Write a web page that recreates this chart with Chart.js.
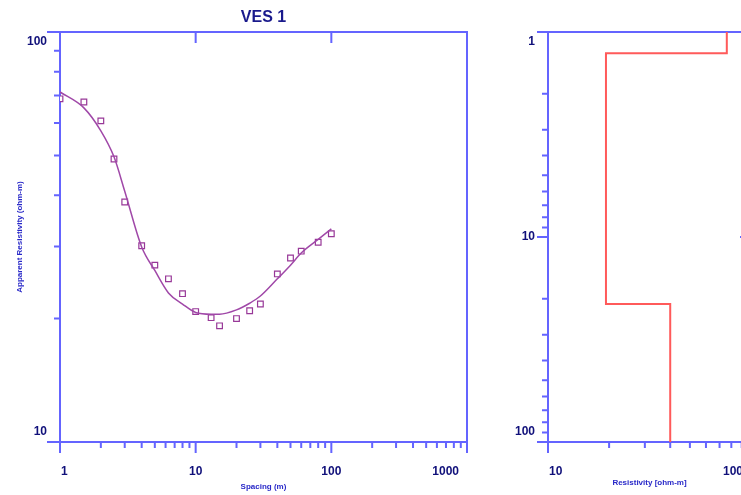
<!DOCTYPE html>
<html>
<head>
<meta charset="utf-8">
<script src="https://cdn.jsdelivr.net/npm/chart.js@4.4.1/dist/chart.umd.min.js"></script>
<style>
html, body { margin: 0; padding: 0; background: #fff; overflow: hidden; width: 741px; height: 495px; }
#ves { position: absolute; left: 0; top: 0; }
#model { position: absolute; left: 490px; top: 0; }
</style>
</head>
<body>
<canvas id="ves" width="490" height="495"></canvas>
<canvas id="model" width="300" height="495"></canvas>
<script>
// field sounding: AB/2 spacing (m) and apparent resistivity (ohm-m)
var spacing = [1, 1.5, 2, 2.5, 3, 4, 5, 6.3, 8, 10, 13, 15, 20, 25, 30, 40, 50, 60, 80, 100];
var apparentRes = [68.7, 67.5, 60.7, 49.0, 38.5, 30.1, 27.0, 25.0, 23.0, 20.8, 20.1, 19.2, 20.0, 20.9, 21.7, 25.7, 28.1, 29.2, 30.7, 32.2];
// computed response of the layered model at the same spacings
var modelRes = [71.4, 65.3, 57.4, 49.6, 40.9, 29.9, 26.2, 23.1, 21.7, 20.7, 20.5, 20.5, 21.0, 21.8, 22.7, 25.0, 27.0, 28.9, 31.2, 33.1];

// layered model: resistivity of each layer and depth of each interface
var layerRes = [76, 19.3, 40];
var interfaceDepth = [1.27, 21.2];
var depthMin = 1, depthMax = 100;

// axis decades and their labels
var spacingDecades = [1, 10, 100, 1000];
var spacingLabels = ['1', '10', '100', '1000'];
var appResDecades = [10, 100];
var appResLabels = ['10', '100'];
var resDecades = [10, 100];
var resLabels = ['10', '100'];
var depthDecades = [1, 10, 100];
var depthLabels = ['1', '10', '100'];

var axisColor = '#6464ff';
var labelColor = '#10107a';
var titleColor = '#2828c8';
var labelFont = 'bold 12px "Liberation Sans", Arial, sans-serif';
var smallFont = 'bold 8px "Liberation Sans", Arial, sans-serif';

function minorsOf(decades) {
  var out = [];
  for (var i = 0; i < decades.length - 1; i++) {
    for (var k = 2; k <= 9; k++) out.push(decades[i] * k);
  }
  return out;
}

// frame, log ticks and labels in the style of the old IPI2Win plots
var logFrame = {
  id: 'logFrame',
  beforeDatasetsDraw: function (chart, args, o) {
    var ctx = chart.ctx, a = chart.chartArea;
    var xs = chart.scales.x, ys = chart.scales.y;
    ctx.save();
    ctx.strokeStyle = axisColor;
    ctx.lineWidth = 2;
    ctx.strokeRect(a.left, a.top, a.right - a.left, a.bottom - a.top);

    ctx.beginPath();
    minorsOf(o.xDecades).forEach(function (v) {
      var px = xs.getPixelForValue(v);
      ctx.moveTo(px, a.bottom); ctx.lineTo(px, a.bottom + 6);
    });
    o.xDecades.forEach(function (v) {
      var px = xs.getPixelForValue(v);
      ctx.moveTo(px, a.bottom); ctx.lineTo(px, a.bottom + 11);
      ctx.moveTo(px, a.top); ctx.lineTo(px, a.top + 11);
    });
    minorsOf(o.yDecades).forEach(function (v) {
      var py = ys.getPixelForValue(v);
      ctx.moveTo(a.left - 6, py); ctx.lineTo(a.left, py);
    });
    o.yDecades.forEach(function (v) {
      var py = ys.getPixelForValue(v);
      ctx.moveTo(a.left - o.majorLen, py); ctx.lineTo(a.left, py);
      ctx.moveTo(a.right - 11, py); ctx.lineTo(a.right, py);
    });
    ctx.stroke();

    ctx.fillStyle = labelColor;
    ctx.font = labelFont;
    ctx.textBaseline = 'middle';
    o.xDecades.forEach(function (v, i) {
      var px = xs.getPixelForValue(v);
      if (i === 0) { ctx.textAlign = 'left'; px += 1; }
      else if (i === o.xDecades.length - 1) { ctx.textAlign = 'right'; px -= 8; }
      else ctx.textAlign = 'center';
      ctx.fillText(o.xLabels[i], px, a.bottom + 30);
    });
    ctx.textAlign = 'right';
    o.yDecades.forEach(function (v, i) {
      var py = ys.getPixelForValue(v);
      if (Math.abs(py - a.top) < 1) py += 10;
      else if (Math.abs(py - a.bottom) < 1) py -= 10;
      ctx.fillText(o.yLabels[i], a.left - 13, py);
    });

    if (o.title) {
      ctx.fillStyle = '#1a1a8c';
      ctx.font = 'bold 16px "Liberation Sans", Arial, sans-serif';
      ctx.textAlign = 'center';
      ctx.fillText(o.title, (a.left + a.right) / 2, 18);
    }

    ctx.fillStyle = titleColor;
    ctx.font = smallFont;
    ctx.textAlign = 'center';
    ctx.fillText(o.xTitle, (a.left + a.right) / 2, o.xTitleY);
    ctx.translate(o.yTitleX, (a.top + a.bottom) / 2);
    ctx.rotate(-Math.PI / 2);
    ctx.fillText(o.yTitle, 0, 0);
    ctx.restore();
  }
};

function pairs(xs, ys) {
  return xs.map(function (x, i) { return { x: x, y: ys[i] }; });
}

new Chart(document.getElementById('ves'), {
  type: 'scatter',
  data: {
    datasets: [
      {
        data: pairs(spacing, modelRes),
        showLine: true,
        borderColor: '#a048a8',
        borderWidth: 1.5,
        pointRadius: 0,
        cubicInterpolationMode: 'monotone'
      },
      {
        data: pairs(spacing, apparentRes),
        pointStyle: 'rect',
        pointRadius: 4,
        borderWidth: 1.2,
        borderColor: '#983898',
        backgroundColor: '#ffffff'
      }
    ]
  },
  options: {
    responsive: false,
    animation: false,
    layout: { padding: { left: 60, top: 32, right: 23, bottom: 53 } },
    scales: {
      x: { type: 'logarithmic', min: 1, max: 1000, display: false },
      y: { type: 'logarithmic', min: 10, max: 100, display: false }
    },
    plugins: {
      legend: { display: false },
      tooltip: { enabled: false },
      logFrame: {
        xDecades: spacingDecades, xLabels: spacingLabels,
        yDecades: appResDecades, yLabels: appResLabels,
        majorLen: 13,
        title: 'VES 1',
        xTitle: 'Spacing (m)', xTitleY: 487,
        yTitle: 'Apparent Resistivity (ohm-m)', yTitleX: 20
      }
    }
  },
  plugins: [logFrame]
});

// step outline of the layered section
var section = [];
var layerTop = depthMin;
layerRes.forEach(function (r, i) {
  var layerBottom = i < interfaceDepth.length ? interfaceDepth[i] : depthMax;
  section.push({ x: r, y: layerTop }, { x: r, y: layerBottom });
  layerTop = layerBottom;
});

new Chart(document.getElementById('model'), {
  type: 'scatter',
  data: {
    datasets: [{
      data: section,
      showLine: true,
      borderColor: '#ff5a5a',
      borderWidth: 2,
      pointRadius: 0
    }]
  },
  options: {
    responsive: false,
    animation: false,
    layout: { padding: { left: 58, top: 32, right: 39, bottom: 53 } },
    scales: {
      x: { type: 'logarithmic', min: 10, max: 100, display: false },
      y: { type: 'logarithmic', min: depthMin, max: depthMax, reverse: true, display: false }
    },
    plugins: {
      legend: { display: false },
      tooltip: { enabled: false },
      logFrame: {
        xDecades: resDecades, xLabels: resLabels,
        yDecades: depthDecades, yLabels: depthLabels,
        majorLen: 11,
        xTitle: 'Resistivity [ohm-m]', xTitleY: 483,
        yTitle: 'Depth [m]', yTitleX: 512
      }
    }
  },
  plugins: [logFrame]
});
</script>
</body>
</html>
